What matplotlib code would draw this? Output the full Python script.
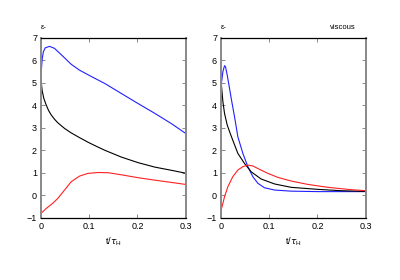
import matplotlib
matplotlib.use("Agg")
import matplotlib.pyplot as plt

plt.rcParams['font.family'] = ['Liberation Sans', 'DejaVu Sans']

# Left panel
t_blue_L = [0, 0.002, 0.0045, 0.0083, 0.0173, 0.0277, 0.0416, 0.0624, 0.0797, 0.104, 0.132, 0.166, 0.201, 0.236, 0.270, 0.3]
v_blue_L = [5.45, 6.05, 6.38, 6.55, 6.62, 6.53, 6.25, 5.82, 5.56, 5.28, 4.97, 4.53, 4.08, 3.64, 3.19, 2.75]
t_black_L = [0, 0.002, 0.0055, 0.0104, 0.0155, 0.0208, 0.0276, 0.0346, 0.0485, 0.0624, 0.0797, 0.097, 0.115, 0.132, 0.166, 0.201, 0.236, 0.270, 0.3]
v_black_L = [5.04, 4.65, 4.30, 4.01, 3.76, 3.57, 3.38, 3.22, 2.97, 2.77, 2.56, 2.36, 2.17, 2.00, 1.70, 1.45, 1.25, 1.11, 0.98]
t_red_L = [0, 0.0104, 0.024, 0.0346, 0.0485, 0.0624, 0.0797, 0.097, 0.118, 0.139, 0.166, 0.201, 0.236, 0.270, 0.3]
v_red_L = [-0.80, -0.59, -0.36, -0.14, 0.23, 0.60, 0.85, 0.97, 1.01, 1.00, 0.91, 0.78, 0.67, 0.57, 0.48]

# Right panel (viscous)
t_blue_R = [0, 0.0035, 0.0069, 0.009, 0.0125, 0.0173, 0.022, 0.0277, 0.0346, 0.045, 0.0554, 0.0658, 0.0762, 0.090, 0.111, 0.1455, 0.201, 0.3]
v_blue_R = [4.90, 5.49, 5.76, 5.71, 5.34, 4.75, 4.16, 3.49, 2.60, 1.86, 1.27, 0.82, 0.53, 0.33, 0.23, 0.18, 0.16, 0.16]
t_black_R = [0, 0.0035, 0.0069, 0.0125, 0.0187, 0.024, 0.0346, 0.0485, 0.0624, 0.083, 0.111, 0.1455, 0.201, 0.249, 0.3]
v_black_R = [5.00, 4.16, 3.64, 3.12, 2.75, 2.45, 1.86, 1.41, 1.04, 0.72, 0.50, 0.35, 0.26, 0.20, 0.17]
t_red_R = [0, 0.0069, 0.0139, 0.024, 0.0346, 0.045, 0.0554, 0.0658, 0.0797, 0.097, 0.118, 0.1455, 0.180, 0.222, 0.263, 0.3]
v_red_R = [-0.66, -0.07, 0.38, 0.82, 1.12, 1.27, 1.34, 1.30, 1.15, 0.97, 0.79, 0.63, 0.48, 0.35, 0.26, 0.20]

x_ticks = [0, 0.1, 0.2, 0.3]
x_tick_labels = ["0", "0.1", "0.2", "0.3"]
y_ticks = [-1, 0, 1, 2, 3, 4, 5, 6, 7]

fig = plt.figure(figsize=(4, 2.8), dpi=100)
axL = fig.add_axes([0.103, 0.2225, 0.361, 0.6425])
axR = fig.add_axes([0.553, 0.2225, 0.361, 0.6425])

panels = [
    (axL, (t_blue_L, v_blue_L), (t_black_L, v_black_L), (t_red_L, v_red_L)),
    (axR, (t_blue_R, v_blue_R), (t_black_R, v_black_R), (t_red_R, v_red_R)),
]
for ax, b, k, r in panels:
    ax.plot(*b, color='#2020ff', lw=0.8)
    ax.plot(*k, color='black', lw=0.8)
    ax.plot(*r, color='#ff2020', lw=0.8)
    ax.set_xlim(0, 0.3)
    ax.set_ylim(-1, 7)
    ax.set_xticks(x_ticks)
    ax.set_xticklabels(x_tick_labels)
    ax.set_yticks(y_ticks)
    ax.tick_params(direction='in', length=3, width=0.6, color='#777777',
                   top=True, right=True, labelsize=6.5, pad=3)
    for s in ['left', 'right']:
        ax.spines[s].set_color('#888888')
        ax.spines[s].set_linewidth(1.4)
    for s in ['top', 'bottom']:
        ax.spines[s].set_color('black')
        ax.spines[s].set_linewidth(0.9)
    ax.set_xlabel(r"t/$\tau_\mathregular{H}$", fontsize=6.5, labelpad=3)
    ax.text(0.0, 1.04, "ε-", transform=ax.transAxes, fontsize=5.5, ha='left', va='bottom')

axR.text(0.93, 1.04, "viscous", transform=axR.transAxes, fontsize=5.5, ha='right', va='bottom')

fig.savefig("out.png", dpi=100)
